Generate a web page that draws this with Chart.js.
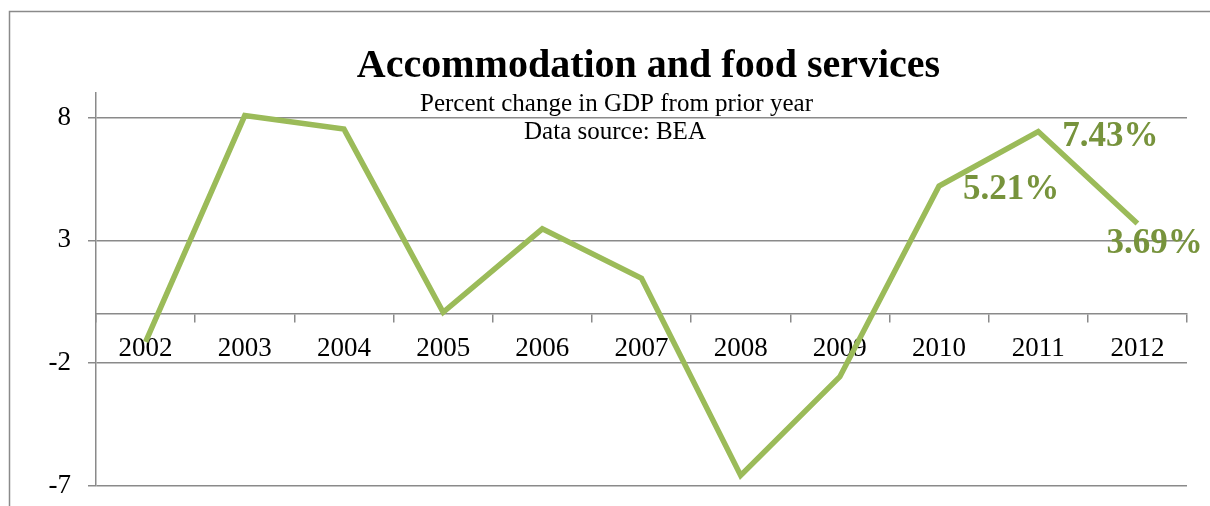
<!DOCTYPE html>
<html>
<head>
<meta charset="utf-8">
<script src="https://cdn.jsdelivr.net/npm/chart.js@4.4.1/dist/chart.umd.min.js"></script>
<style>
  html, body { margin: 0; padding: 0; background: #ffffff; }
  canvas { display: block; }
</style>
</head>
<body>
<canvas id="chart" width="1210" height="506"></canvas>
<script>
// Real GDP growth, accommodation and food services (percent change from prior year)
const years = ['2002', '2003', '2004', '2005', '2006', '2007', '2008', '2009', '2010', '2011', '2012'];
const gdpChange = [-1.13, 8.08, 7.53, 0.07, 3.47, 1.46, -6.57, -2.55, 5.21, 7.43, 3.69];
const yTicks = [-7, -2, 3, 8];
const labelledYears = ['2010', '2011', '2012'];

const titleText = 'Accommodation and food services';
const subtitleLines = ['Percent change in GDP from prior year', 'Data source: BEA'];

const SERIF = '"Liberation Serif", "Times New Roman", serif';
const GRID = '#8a8a8a';
const LINE_GREEN = '#9bbb59';
const LABEL_GREEN = '#77933c';

// placement of each value label relative to its point: [dx, dy to baseline]
const labelPlacement = { '2010': [24, 13], '2011': [24, 14], '2012': [-31, 30] };

const decor = {
  id: 'decor',
  beforeDraw(chart) {
    const ctx = chart.ctx;
    ctx.save();
    ctx.strokeStyle = GRID;
    ctx.lineWidth = 1.5;
    ctx.beginPath();
    ctx.moveTo(9.5, 520);
    ctx.lineTo(9.5, 11.5);
    ctx.lineTo(1230, 11.5);
    ctx.stroke();
    ctx.restore();
  },
  afterDatasetsDraw(chart) {
    const ctx = chart.ctx;
    ctx.save();
    // heading
    ctx.fillStyle = '#000000';
    ctx.textAlign = 'center';
    ctx.textBaseline = 'alphabetic';
    ctx.font = 'bold 40px ' + SERIF;
    ctx.fillText(titleText, 648.5, 77);
    ctx.font = '25px ' + SERIF;
    ctx.fillText(subtitleLines[0], 616.5, 111);
    ctx.fillText(subtitleLines[1], 615, 139);

    // value labels
    const xs = chart.scales.x, ys = chart.scales.y;
    ctx.fillStyle = LABEL_GREEN;
    ctx.font = 'bold 35px ' + SERIF;
    ctx.textAlign = 'left';
    labelledYears.forEach(yr => {
      const i = years.indexOf(yr);
      const v = gdpChange[i];
      const px = xs.getPixelForValue(i);
      const py = ys.getPixelForValue(v);
      const [dx, dy] = labelPlacement[yr];
      ctx.fillText(v.toFixed(2) + '%', px + dx, py + dy);
    });
    ctx.restore();
  }
};

new Chart(document.getElementById('chart'), {
  type: 'line',
  data: {
    labels: years,
    datasets: [{
      data: gdpChange,
      borderColor: LINE_GREEN,
      borderWidth: 5.5,
      borderJoinStyle: 'miter',
      borderCapStyle: 'butt',
      pointRadius: 0,
      pointHoverRadius: 0,
      tension: 0,
      fill: false
    }]
  },
  options: {
    responsive: false,
    animation: false,
    events: [],
    layout: { padding: { left: 0, top: 93, right: 23, bottom: 20 } },
    plugins: {
      legend: { display: false },
      title: { display: false },
      tooltip: { enabled: false }
    },
    scales: {
      x: {
        type: 'category',
        position: { y: 0 },
        offset: true,
        afterFit(scale) { scale.height = 0; },
        grid: {
          offset: true,
          drawOnChartArea: false,
          drawTicks: true,
          tickLength: 8,
          color: GRID,
          lineWidth: 1.5
        },
        border: { display: true, color: GRID, width: 1.5 },
        ticks: {
          color: '#000000',
          font: { family: SERIF, size: 27 },
          padding: 11,
          maxRotation: 0,
          autoSkip: false
        }
      },
      y: {
        min: -7,
        max: 9,
        afterBuildTicks(scale) {
          scale.ticks = yTicks.map(v => ({ value: v }));
        },
        afterFit(scale) {
          scale.width = 96;
          scale.paddingTop = 0;
          scale.paddingBottom = 0;
        },
        grid: {
          color: GRID,
          lineWidth: 1.5,
          drawTicks: true,
          tickLength: 8
        },
        border: { display: true, color: GRID, width: 1.5 },
        ticks: {
          color: '#000000',
          font: { family: SERIF, size: 27 },
          padding: 17
        }
      }
    }
  },
  plugins: [decor]
});
</script>
</body>
</html>
